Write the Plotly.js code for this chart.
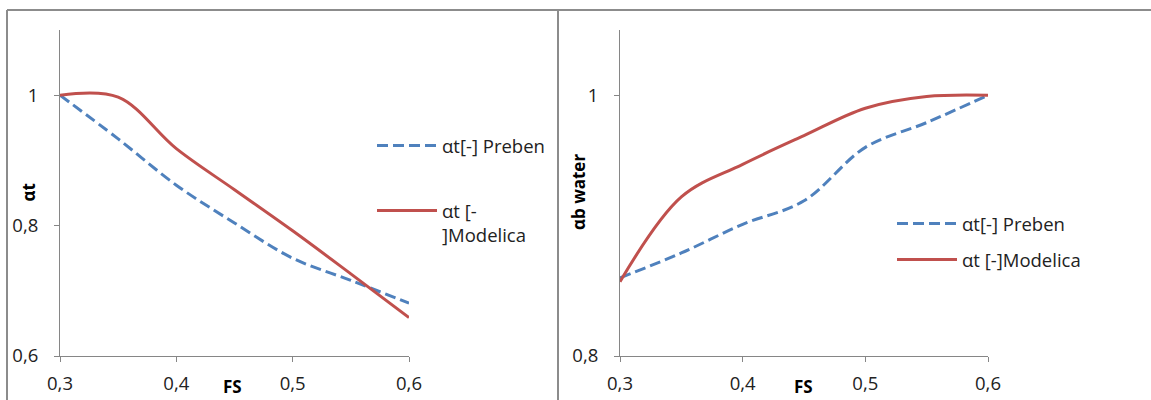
<!DOCTYPE html>
<html>
<head>
<meta charset="utf-8">
<script src="https://cdn.plot.ly/plotly-3.0.1.min.js"></script>
<style>html,body{margin:0;padding:0;background:#fff}#chart{width:1151px;height:400px}</style>
</head>
<body>
<div id="chart"></div>
<script>
// FS values
const fs = [0.3, 0.35, 0.4, 0.45, 0.5, 0.55, 0.6];
// Left chart: αt
const leftPreben   = [1.0, 0.933, 0.862, 0.804, 0.750, 0.716, 0.681];
const leftModelica = [1.0, 0.997, 0.918, 0.855, 0.792, 0.726, 0.659];
// Right chart: αb water
const rightPreben   = [0.860, 0.879, 0.901, 0.919, 0.960, 0.979, 1.0];
const rightModelica = [0.857, 0.922, 0.947, 0.969, 0.990, 0.999, 1.0];
// Labels
const nameLeftPreben = 'αt[-] Preben';
const nameLeftModelica = 'αt [-<br>]Modelica';
const nameRightPreben = 'αt[-] Preben';
const nameRightModelica = 'αt [-]Modelica';
const xTitle = 'FS';
const yTitleLeft = 'αt';
const yTitleRight = 'αb water';

const W = 1151, H = 400;
const blue = '#4F81BD', red = '#C0504D', axisCol = '#868686';
const FONT = 'Open Sans, Liberation Sans, sans-serif';
const px = v => v / W, py = v => (H - v) / H;

const blueLine = {color: blue, width: 3, dash: '11px,5px', shape: 'spline', smoothing: 1};
const redLine = {color: red, width: 3, shape: 'spline', smoothing: 1};

const traces = [
  {x: fs, y: leftPreben, name: nameLeftPreben, mode: 'lines', line: blueLine, xaxis: 'x', yaxis: 'y', legend: 'legend', legendgroup: 'a'},
  {x: fs, y: leftModelica, name: nameLeftModelica, mode: 'lines', line: redLine, xaxis: 'x', yaxis: 'y', legend: 'legend', legendgroup: 'b'},
  {x: fs, y: rightPreben, name: nameRightPreben, mode: 'lines', line: blueLine, xaxis: 'x2', yaxis: 'y2', legend: 'legend2', legendgroup: 'c'},
  {x: fs, y: rightModelica, name: nameRightModelica, mode: 'lines', line: redLine, xaxis: 'x2', yaxis: 'y2', legend: 'legend2', legendgroup: 'd'}
];

const tickFont = {family: FONT, size: 18.5, color: '#222'};
const axBase = {
  showline: true, linecolor: axisCol, linewidth: 1, ticks: 'outside', ticklen: 5, tickcolor: axisCol,
  showgrid: false, zeroline: false, tickfont: tickFont, fixedrange: true
};
const yDom = [py(356), py(30)];
const titleFont = {family: FONT, size: 17, color: '#000', weight: 'bold'};
const ann = (text, x, y, angle) => ({text: text, xref: 'paper', yref: 'paper', x: px(x), y: py(y),
  xanchor: 'center', yanchor: 'middle', showarrow: false, textangle: angle || 0, font: titleFont});

const layout = {
  width: W, height: H, margin: {l: 0, r: 0, t: 0, b: 0},
  paper_bgcolor: '#fff', plot_bgcolor: '#fff', separators: ', ',
  font: {family: FONT, size: 18.5, color: '#222'},
  xaxis: Object.assign({}, axBase, {domain: [px(60), px(409)], range: [0.3, 0.6], dtick: 0.1, tick0: 0.3, anchor: 'y', ticklabelstandoff: 6}),
  yaxis: Object.assign({}, axBase, {domain: yDom, range: [0.6, 1.1], dtick: 0.2, tick0: 0.6, anchor: 'x', ticklabelstandoff: 12}),
  xaxis2: Object.assign({}, axBase, {domain: [px(620), px(988)], range: [0.3, 0.6], dtick: 0.1, tick0: 0.3, anchor: 'y2', ticklabelstandoff: 6}),
  yaxis2: Object.assign({}, axBase, {domain: yDom, range: [0.8, 1.05], dtick: 0.2, tick0: 0.8, anchor: 'x2', ticklabelstandoff: 12}),
  showlegend: true,
  legend: {x: px(372), y: py(127), xanchor: 'left', yanchor: 'top', bgcolor: 'rgba(0,0,0,0)', valign: 'top',
    font: {family: FONT, size: 18.5, color: '#222'}, traceorder: 'grouped', tracegroupgap: 38, itemwidth: 60},
  legend2: {x: px(892), y: py(205), xanchor: 'left', yanchor: 'top', bgcolor: 'rgba(0,0,0,0)',
    font: {family: FONT, size: 18.5, color: '#222'}, traceorder: 'grouped', tracegroupgap: 9, itemwidth: 60},
  annotations: [
    ann(xTitle, 232, 386), ann(xTitle, 803, 386),
    ann(yTitleLeft, 27.5, 193, -90), ann(yTitleRight, 578, 192, -90)
  ],
  shapes: [
    {type: 'line', xref: 'paper', yref: 'paper', x0: px(7), x1: 1, y0: py(10), y1: py(10), line: {color: '#8c8c8c', width: 2}},
    {type: 'line', xref: 'paper', yref: 'paper', x0: px(7), x1: px(7), y0: py(10), y1: 0, line: {color: '#8c8c8c', width: 2}},
    {type: 'line', xref: 'paper', yref: 'paper', x0: px(558), x1: px(558), y0: py(10), y1: 0, line: {color: '#8c8c8c', width: 2}}
  ]
};

Plotly.newPlot('chart', traces, layout, {displayModeBar: false, staticPlot: true});
</script>
</body>
</html>
